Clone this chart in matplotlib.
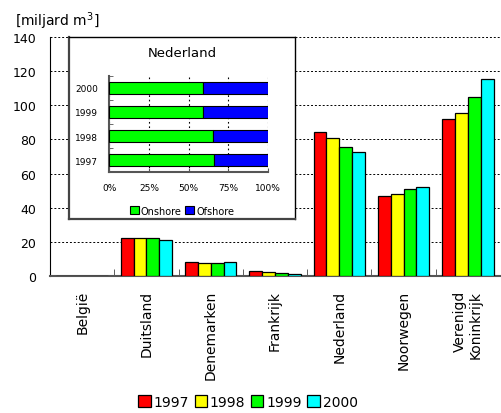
import numpy as np
import matplotlib
matplotlib.use('Agg')
import matplotlib.pyplot as plt
from matplotlib.patches import Patch

plt.rcParams['font.family'] = ['DejaVu Sans']

# gasproductie per land [miljard m3]
landen = ['België', 'Duitsland', 'Denemarken', 'Frankrijk', 'Nederland',
          'Noorwegen', 'Verenigd\nKoninkrijk']
jaren = ['1997', '1998', '1999', '2000']
prod_1997 = [0, 22.1, 7.8, 2.6, 84.4, 46.6, 92.0]
prod_1998 = [0, 22.0, 7.3, 2.0, 80.7, 47.8, 95.5]
prod_1999 = [0, 22.1, 7.6, 1.6, 75.4, 50.9, 104.9]
prod_2000 = [0, 21.2, 8.0, 1.2, 72.6, 52.3, 115.3]
kleuren = ['#ff0000', '#ffff00', '#00ff00', '#00ffff']

# Nederland: aandeel onshore / offshore
nl_jaren = ['1997', '1998', '1999', '2000']
onshore = [66.2, 65.5, 59.2, 59.2]
ofshore = [100 - v for v in onshore]

fig = plt.figure(figsize=(5.01, 4.14), dpi=100)
ax = fig.add_axes([0.0998, 0.3316, 0.8982, 0.5759])

x = np.arange(len(landen))
breedte = 0.2
reeksen = [prod_1997, prod_1998, prod_1999, prod_2000]
for i, (serie, kleur) in enumerate(zip(reeksen, kleuren)):
    ax.bar(x + (i - 1.5) * breedte, serie, breedte, color=kleur,
           edgecolor='black', linewidth=0.9, zorder=3, label=jaren[i])

ax.set_xlim(-0.5, len(landen) - 0.5)
ax.set_ylim(0, 140)
ax.set_yticks(range(0, 141, 20))
ax.yaxis.grid(True, color='black', linestyle=(0, (2, 2)), linewidth=0.7)
ax.set_axisbelow(True)
ax.tick_params(axis='y', length=0, pad=10, labelsize=9)

ax.set_xticks(x)
ax.set_xticklabels(landen, rotation=90, fontsize=10, va='top',
                   multialignment='right')
ax.tick_params(axis='x', length=0, pad=10)
# kleine streepjes tussen de groepen
ax.set_xticks(x[:-1] + 0.5, minor=True)
ax.tick_params(axis='x', which='minor', direction='in', length=5,
               color='#444444')

for s in ['top', 'right']:
    ax.spines[s].set_visible(False)
ax.spines['left'].set_color('black')
ax.spines['bottom'].set_color('#555555')
ax.spines['bottom'].set_linewidth(1.5)

fig.text(0.03, 0.975, '[miljard m$^3$]', fontsize=10, va='top', ha='left')

handles = [Patch(facecolor=k, edgecolor='black', linewidth=0.9) for k in kleuren]
fig.legend(handles, jaren, loc='center', bbox_to_anchor=(0.495, 0.027),
           ncol=4, frameon=False, fontsize=10, handlelength=0.9,
           handleheight=0.9, handletextpad=0.2, columnspacing=0.4)

# inzet: Nederland onshore / offshore
kader = fig.add_axes([0.1377, 0.4686, 0.4511, 0.4396])
kader.set_xticks([])
kader.set_yticks([])
kader.set_zorder(5)
for s in kader.spines.values():
    s.set_color('black')
    s.set_linewidth(1.0)
for s in ['left', 'bottom']:
    kader.spines[s].set_color('#444444')
    kader.spines[s].set_linewidth(1.6)
kader.text(0.5, 0.915, 'Nederland', transform=kader.transAxes,
           ha='center', va='center', fontsize=9.5)

inzet = fig.add_axes([0.2182, 0.5814, 0.3168, 0.2333])
inzet.set_zorder(6)
inzet.patch.set_alpha(0)
yp = np.arange(len(nl_jaren))
inzet.barh(yp, onshore, 0.5, color='#00ff00', edgecolor='black',
           linewidth=0.8, zorder=3)
inzet.barh(yp, ofshore, 0.5, left=onshore, color='#0000ff',
           edgecolor='black', linewidth=0.8, zorder=3)
inzet.set_xlim(0, 100)
inzet.set_ylim(-0.5, 3.5)
inzet.set_xticks([0, 25, 50, 75, 100])
inzet.set_xticklabels(['0%', '25%', '50%', '75%', '100%'], fontsize=6.5)
inzet.set_yticks(yp)
inzet.set_yticklabels(nl_jaren, fontsize=6.5)
inzet.tick_params(axis='y', length=0, pad=8)
inzet.tick_params(axis='x', direction='in', length=3, pad=8, color='#555555')
inzet.set_yticks(np.arange(-0.5, 4, 1), minor=True)
inzet.tick_params(axis='y', which='minor', direction='in', length=3,
                  color='#555555')
inzet.xaxis.grid(True, color='black', linestyle=(0, (1.5, 2.5)), linewidth=0.8)
inzet.set_axisbelow(True)
for s in ['top', 'right']:
    inzet.spines[s].set_visible(False)
for s in ['left', 'bottom']:
    inzet.spines[s].set_color('#555555')
    inzet.spines[s].set_linewidth(1.5)

inzet_handles = [Patch(facecolor='#00ff00', edgecolor='black', linewidth=0.8),
                 Patch(facecolor='#0000ff', edgecolor='black', linewidth=0.8)]
leg = kader.legend(inzet_handles, ['Onshore', 'Ofshore'], loc='center',
                   bbox_to_anchor=(0.5, 0.045), ncol=2, frameon=False,
                   fontsize=7, handlelength=0.9, handleheight=0.9,
                   handletextpad=0.2, columnspacing=0.4)

fig.savefig('out.png', dpi=100)
